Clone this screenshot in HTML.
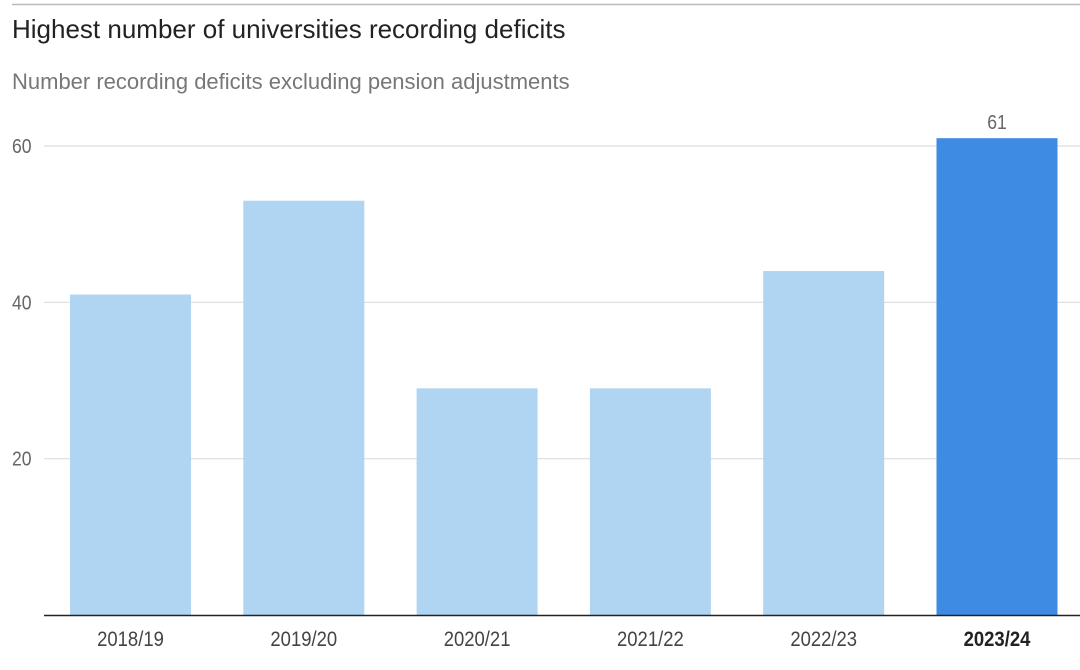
<!DOCTYPE html>
<html><head><meta charset="utf-8"><style>
body{margin:0;width:1080px;height:665px;background:#fff;overflow:hidden;font-family:"Liberation Sans",sans-serif}
</style></head><body>
<svg id="c" width="1080" height="665" xmlns="http://www.w3.org/2000/svg">
<line x1="12" y1="4.5" x2="1080" y2="4.5" stroke="#bbb" stroke-width="1.5"/>
<text x="12" y="38" font-size="26" fill="#222">Highest number of universities recording deficits</text>
<text x="12" y="89" font-size="22" fill="#777">Number recording deficits excluding pension adjustments</text>
<g id="g"></g>
</svg>
<script>
const categories=["2018/19","2019/20","2020/21","2021/22","2022/23","2023/24"];
const values=[41,53,29,29,44,61];
const ticks=[20,40,60];
const highlight=[false,false,false,false,false,true];
const NS="http://www.w3.org/2000/svg",g=document.getElementById('g');
const y0=615,pxPer=(615-146)/60;
const y=v=>y0-v*pxPer;
const x=i=>70+i*173.3;
const bw=121;
function mk(t,a,txt){const e=document.createElementNS(NS,t);for(const k in a)e.setAttribute(k,a[k]);if(txt!=null)e.textContent=txt;g.appendChild(e);return e;}
ticks.forEach(t=>{
 const l=mk('line',{x1:44,x2:1080,y1:y(t),y2:y(t),stroke:'#ddd','stroke-width':1.2});
 
 
 const tx=mk('text',{x:12,y:y(t)+7,'font-size':20,fill:'#666',transform:`translate(${12*0.12},0) scale(0.88,1)`},t);
 tx.setAttribute('x',12/0.88);
 tx.setAttribute('transform','scale(0.88,1)');
 
 
});
values.forEach((v,i)=>{
 const r=mk('rect',{x:x(i),y:y(v),width:bw,height:y0-y(v),fill:highlight[i]?'#3d8be3':'#b0d5f2'});
 
 
 const cx=x(i)+bw/2;
 const lab=mk('text',{x:cx/0.88,y:646,'font-size':21,'text-anchor':'middle',fill:highlight[i]?'#222':'#444','font-weight':highlight[i]?'bold':'normal',transform:'scale(0.88,1)'},categories[i]);
 
 
 if(highlight[i]){
  const vl=mk('text',{x:cx/0.88,y:y(v)-9,'font-size':20,'text-anchor':'middle',fill:'#666',transform:'scale(0.88,1)'},v);
  
  
 }
});
const b=mk('line',{x1:44,x2:1080,y1:y0+0.5,y2:y0+0.5,stroke:'#222','stroke-width':1.5});


</script>
</body></html>
